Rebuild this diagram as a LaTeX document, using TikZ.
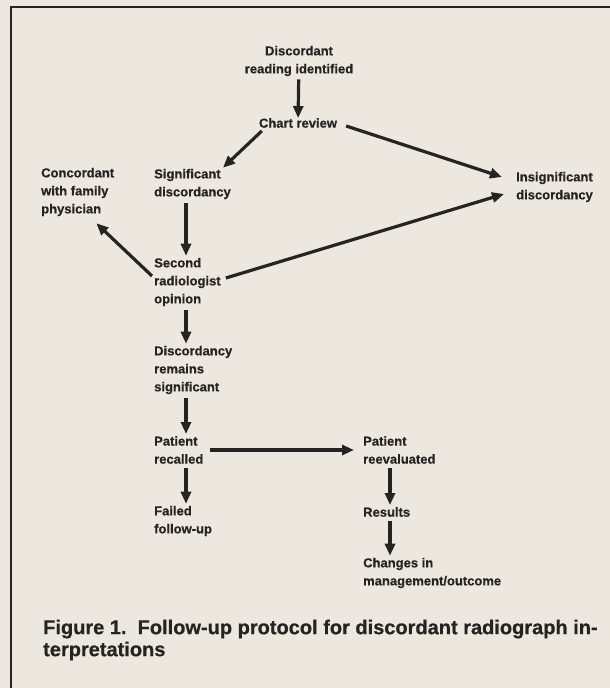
\documentclass[tikz,border=0pt]{standalone}
\usepackage{fontspec}
\setmainfont{Liberation Sans}[BoldFeatures={FakeBold=0.6}]
\usetikzlibrary{arrows.meta,positioning}
\definecolor{paper}{HTML}{EDE8DF}
\definecolor{ink}{HTML}{272323}
\tikzset{
  font=\bfseries\fontsize{13}{18}\selectfont,
  lbl/.style={align=left, inner sep=0pt, text=ink, anchor=west},
  arrow/.style={-{Triangle[length=12pt,width=10pt]}, draw=ink, line width=3.2pt},
  frame/.style={draw=ink, line width=2.6pt},
  caption/.style={lbl, font=\bfseries\fontsize{20}{22}\selectfont},
}
\begin{document}
\begin{tikzpicture}[x=1pt, y=-1pt]
\fill[paper] (0,0) rectangle (610,688);
\useasboundingbox (0,0) rectangle (610,688);
\draw[frame] (11,688) -- (11,7) -- (610,7);

% flow nodes
\node[lbl, anchor=center, align=center] (disc) at (299,61) {Discordant\\reading identified};
\node[lbl, anchor=center] (chart) at (298,123) {Chart review};
\node[lbl] (conc) at (41,192) {Concordant\\with family\\physician};
\node[lbl] (sig) at (154,184) {Significant\\discordancy};
\node[lbl] (insig) at (516,187) {Insignificant\\discordancy};
\node[lbl] (second) at (154,282) {Second\\radiologist\\opinion};
\node[lbl] (remain) at (154,370) {Discordancy\\remains\\significant};
\node[lbl] (recall) at (154,450) {Patient\\recalled};
\node[lbl] (reeval) at (363,450) {Patient\\reevaluated};
\node[lbl] (failed) at (154,521) {Failed\\follow-up};
\node[lbl] (results) at (363,512) {Results};
\node[lbl] (change) at (363,573) {Changes in\\management/outcome};

\node[caption] (cap) at (43,640) {Figure 1.\ \ Follow-up protocol for discordant radiograph in-\\terpretations};

% connectors
\draw[arrow, shorten <=3pt] (disc) -- (chart);
\draw[arrow] ([xshift=3pt,yshift=-3pt]chart.south west) -- ([xshift=-8pt,yshift=1pt]sig.north east);
\draw[arrow] ([xshift=9pt,yshift=-3pt]chart.east) -- ([xshift=-14pt,yshift=10pt]insig.west);
\draw[arrow] ([xshift=-2pt,yshift=6pt]second.west) -- ([xshift=-18pt,yshift=-7pt]conc.south east);
\draw[arrow] ([xshift=5pt,yshift=4pt]second.east) -- ([xshift=-12pt,yshift=-7pt]insig.west);
\foreach \a/\b in {sig/second,second/remain,remain/recall,recall/failed}
  {\draw[arrow, shorten <=4pt, shorten >=2pt] ([xshift=32pt]\a.south west) -- ([xshift=32pt]\a.south west |- \b.north);}
\foreach \a/\b in {reeval/results,results/change}
  {\draw[arrow, shorten <=4pt, shorten >=2pt] ([xshift=27pt]\a.south west) -- ([xshift=27pt]\a.south west |- \b.north);}
\draw[arrow, shorten <=6pt, shorten >=9pt] (recall) -- (reeval);
\end{tikzpicture}
\end{document}
